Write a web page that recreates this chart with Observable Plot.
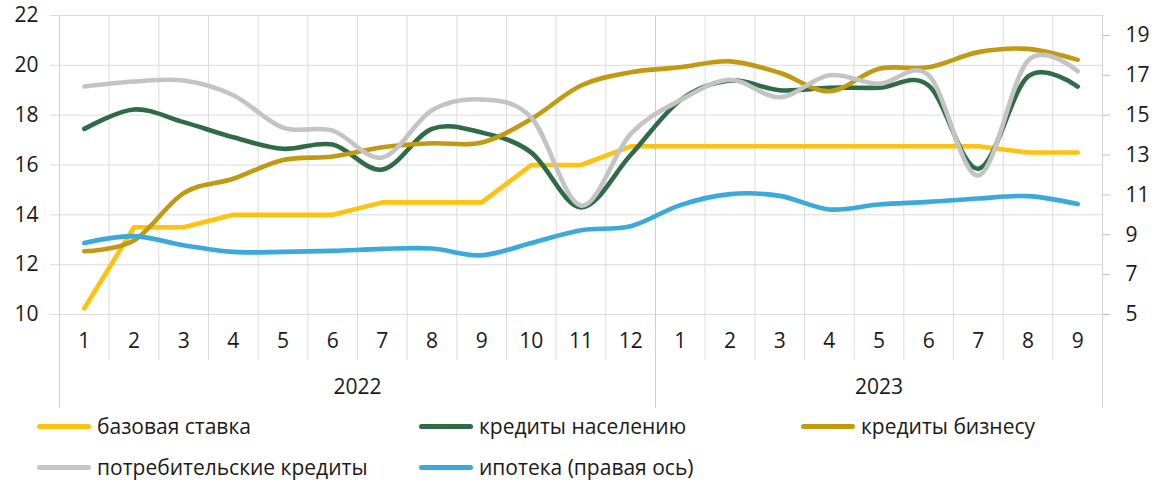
<!DOCTYPE html>
<html><head><meta charset="utf-8">
<script src="https://cdn.jsdelivr.net/npm/d3@7"></script>
<script src="https://cdn.jsdelivr.net/npm/@observablehq/plot@0.6"></script>
<style>
body{margin:0;background:#fff;font-family:"Open Sans",sans-serif;}
#wrap{position:relative;width:1168px;height:493px;overflow:hidden;}
#chart{position:absolute;left:0;top:0;}
.leg{position:absolute;display:flex;align-items:center;font-size:21px;color:#1a1a1a;white-space:nowrap;transform:translateY(-50%);}
.sw{width:54px;height:5px;border-radius:2.5px;margin-right:6px;}
</style></head><body><div id="wrap"><div id="chart"></div></div>
<script>
// Category axis
const monthLabels = ["1","2","3","4","5","6","7","8","9","10","11","12","1","2","3","4","5","6","7","8","9"];
const years = ["2022","2023"];
const monthsPerYear = [12, 9];
const leftTicks = [10,12,14,16,18,20,22];
const rightTicks = [5,7,9,11,13,15,17,19];

// Series (left axis unless noted)
const seriesNames = ["базовая ставка","кредиты населению","кредиты бизнесу","потребительские кредиты","ипотека (правая ось)"];
const seriesColors = ["#FFC20E","#2E6B46","#C29A12","#C4C4C4","#3BA9D9"];
const baseRate     = [10.25,13.5,13.5,14,14,14,14.5,14.5,14.5,16,16,16.75,16.75,16.75,16.75,16.75,16.75,16.75,16.75,16.5,16.5];
const householdLoans = [17.45,18.23,17.72,17.11,16.65,16.82,15.82,17.45,17.3,16.5,14.3,16.4,18.6,19.39,19.0,19.1,19.1,19.19,15.85,19.55,19.15];
const businessLoans  = [12.54,12.97,14.87,15.45,16.2,16.34,16.71,16.87,16.9,17.85,19.19,19.72,19.92,20.16,19.7,18.96,19.86,19.92,20.53,20.66,20.22];
const consumerLoans  = [19.15,19.35,19.39,18.8,17.5,17.38,16.3,18.2,18.63,17.9,14.37,17.25,18.6,19.42,18.72,19.6,19.26,19.6,15.58,20.19,19.76];
const mortgage       = [8.59,8.93,8.47,8.14,8.14,8.19,8.29,8.31,7.97,8.59,9.23,9.43,10.49,11.04,10.95,10.27,10.52,10.65,10.82,10.94,10.54]; // right axis

// right axis (5..20) mapped onto left axis (10..22)
const toLeft = v => 10 + (v - 5) * 0.8;
const fromLeft = d => Math.round((d - 10) / 0.8 + 5);

const series = [baseRate, householdLoans, businessLoans, consumerLoans, mortgage.map(toLeft)];
const curves = ["linear","catmull-rom","catmull-rom","catmull-rom","catmull-rom"];

const monthBounds = d3.range(1, monthLabels.length);
const yearBounds = [0, ...d3.cumsum(monthsPerYear)];
const yearCenters = monthsPerYear.map((n, k) => yearBounds[k] + n / 2);

const gridColor = "#dcdcdc";
const textColor = "#1a1a1a";

const marks = [
  Plot.ruleY(leftTicks, {y: d => d, stroke: gridColor, insetLeft: -9}),
  Plot.ruleX(monthBounds, {x: d => d, stroke: gridColor, insetBottom: -46}),
  Plot.ruleX(yearBounds, {x: d => d, stroke: "#d0d0d0", insetBottom: -94}),
  Plot.axisY(leftTicks, {anchor: "left", tickSize: 0, tickPadding: 21, color: textColor, fontSize: 21}),
  Plot.axisY(rightTicks.map(toLeft), {anchor: "right", tickSize: 7, tickPadding: 16, stroke: "#bfbfbf", color: textColor, fill: textColor, fontSize: 21, tickFormat: fromLeft}),
  Plot.text(monthLabels, {x: (d, i) => i + 0.5, frameAnchor: "bottom", dy: 33, text: d => d, fill: textColor, fontSize: 21}),
  Plot.text(years, {x: (d, i) => yearCenters[i], frameAnchor: "bottom", dy: 79, text: d => d, fill: textColor, fontSize: 21}),
  ...series.map((vals, k) => Plot.line(vals, {
    x: (d, i) => i + 0.5, y: d => d,
    stroke: seriesColors[k], strokeWidth: 4.6, curve: curves[k], tension: 0,
    strokeLinecap: "round", strokeLinejoin: "round"
  }))
];

const chart = Plot.plot({
  width: 1168, height: 410,
  marginLeft: 59, marginRight: 66, marginTop: 15, marginBottom: 96,
  style: {fontFamily: "'Open Sans', sans-serif", fontSize: "21px", background: "#fff", overflow: "visible"},
  x: {type: "linear", domain: [0, monthLabels.length], axis: null},
  y: {domain: [10, 22], axis: null},
  marks
});
document.getElementById("chart").appendChild(chart);

// Legend
const legendPos = [[37, 426], [419, 426], [801, 426], [37, 467], [419, 467]];
const wrap = document.getElementById("wrap");
seriesNames.forEach((name, k) => {
  const el = document.createElement("div");
  el.className = "leg";
  el.style.left = legendPos[k][0] + "px";
  el.style.top = legendPos[k][1] + "px";
  const sw = document.createElement("div");
  sw.className = "sw";
  sw.style.background = seriesColors[k];
  const tx = document.createElement("span");
  tx.textContent = name;
  el.appendChild(sw); el.appendChild(tx);
  wrap.appendChild(el);
});
</script>
</body></html>
